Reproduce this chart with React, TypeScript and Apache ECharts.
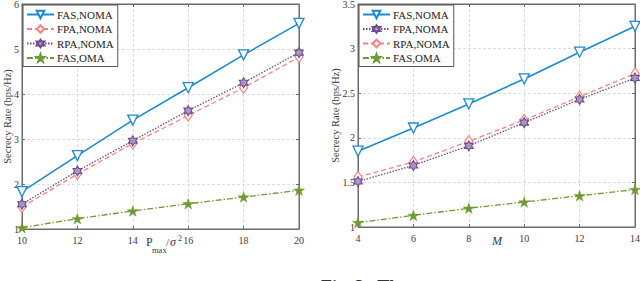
import React, { useEffect, useRef } from "react";
import * as echarts from "echarts";

// ---------- data ----------
const pmaxTicks = [10, 12, 14, 16, 18, 20];
const leftFasNoma = [1.83, 2.63, 3.42, 4.14, 4.87, 5.57];
const leftFpaNoma = [1.49, 2.22, 2.9, 3.52, 4.14, 4.82];
const leftRpaNoma = [1.55, 2.29, 2.96, 3.63, 4.25, 4.92];
const leftFasOma = [1.03, 1.23, 1.4, 1.56, 1.71, 1.86];

const mTicks = [4, 6, 8, 10, 12, 14];
const rightFasNoma = [1.85, 2.11, 2.38, 2.66, 2.96, 3.25];
const rightFpaNoma = [1.51, 1.69, 1.91, 2.17, 2.43, 2.67];
const rightRpaNoma = [1.56, 1.73, 1.96, 2.2, 2.46, 2.72];
const rightFasOma = [1.05, 1.13, 1.21, 1.28, 1.35, 1.42];

const yName = "Secrecy Rate (bps/Hz)";

// ---------- styles ----------
const FONT = "'Liberation Serif', 'DejaVu Serif', serif";
const BLUE = "#1b8ad3";
const RED = "#f78383";
const PURPLE = "#6a4c8e";
const GREEN = "#6f9a33";

const PENTAGRAM =
  "path://M50 0 L61.2 34.5 L97.6 34.5 L68.2 55.9 L79.4 90.5 L50 69.1 L20.6 90.5 L31.8 55.9 L2.4 34.5 L38.8 34.5 Z";
const HEXAGRAM =
  "path://M50 0 L64.4 25 L93.3 25 L78.9 50 L93.3 75 L64.4 75 L50 100 L35.6 75 L6.7 75 L21.1 50 L6.7 25 L35.6 25 Z";

type Style = "blue" | "red" | "purple" | "green";

function series(name: string, xs: number[], ys: number[], st: Style) {
  const data = xs.map((x, i) => [x, ys[i]]);
  const base: any = {
    type: "line",
    name,
    data,
    xAxisIndex: 0,
    yAxisIndex: 0,
    showSymbol: true,
    symbolKeepAspect: true,
  };
  if (st === "blue") {
    return {
      ...base,
      symbol: "triangle",
      symbolRotate: 180,
      symbolSize: 10,
      lineStyle: { color: BLUE, width: 1.6, type: "solid" },
      itemStyle: { color: "#ffffff", borderColor: BLUE, borderWidth: 1.3 },
      z: 4,
    };
  }
  if (st === "red") {
    return {
      ...base,
      symbol: "diamond",
      symbolSize: [8, 11],
      lineStyle: { color: RED, width: 1.3, type: [5, 3] },
      itemStyle: { color: "#ffffff", borderColor: RED, borderWidth: 1.2 },
      z: 2,
    };
  }
  if (st === "purple") {
    return {
      ...base,
      symbol: HEXAGRAM,
      symbolSize: 10,
      lineStyle: { color: PURPLE, width: 1.3, type: [1.5, 1.5] },
      itemStyle: { color: "#a994c4", borderColor: PURPLE, borderWidth: 1.1 },
      z: 3,
    };
  }
  return {
    ...base,
    symbol: PENTAGRAM,
    symbolSize: 11,
    lineStyle: { color: GREEN, width: 1.3, type: [6, 2, 1.5, 2] },
    itemStyle: { color: GREEN, borderColor: GREEN, borderWidth: 0.5 },
    z: 2,
  };
}

function axisCommon() {
  return {
    axisLine: { show: true, onZero: false, lineStyle: { color: "#6b6b6b", width: 1 } },
    axisTick: { show: true, inside: true, length: 3, lineStyle: { color: "#6b6b6b" } },
  };
}

function buildOption(cfg: {
  xTicks: number[];
  yMin: number;
  yMax: number;
  yInterval: number;
  gridLeft: number;
  gridHeight: number;
  yNameGap: number;
  series: any[];
  legendNames: string[];
  graphic: any[];
}) {
  const xMin = cfg.xTicks[0];
  const xMax = cfg.xTicks[cfg.xTicks.length - 1];
  const xInterval = cfg.xTicks[1] - cfg.xTicks[0];
  const label = { fontFamily: FONT, fontSize: 10, color: "#3a3a3a" };
  return {
    animation: false,
    backgroundColor: "#ffffff",
    grid: {
      left: cfg.gridLeft,
      top: 4,
      width: 277,
      height: cfg.gridHeight,
      containLabel: false,
      outerBoundsMode: "none",
      show: true,
      borderColor: "#6b6b6b",
      borderWidth: 1,
      backgroundColor: "transparent",
    },
    legend: {
      data: cfg.legendNames,
      orient: "vertical",
      left: cfg.gridLeft + 1,
      top: 5,
      padding: [4, 4, 3, 3],
      itemGap: 3.5,
      itemWidth: 27,
      itemHeight: 9.5,
      backgroundColor: "#ffffff",
      borderColor: "#555555",
      borderWidth: 1,
      borderRadius: 0,
      textStyle: { fontFamily: FONT, fontSize: 11, color: "#222222", padding: [0, 0, 0, -2] },
    },
    xAxis: [
      {
        type: "value",
        min: xMin,
        max: xMax,
        interval: xInterval,
        ...axisCommon(),
        axisLabel: { ...label, margin: 6 },
        splitLine: { show: true, lineStyle: { color: "#dcdcdc", type: [3, 2], width: 1 } },
      },
      {
        type: "value",
        position: "top",
        min: xMin,
        max: xMax,
        interval: xInterval,
        ...axisCommon(),
        axisLabel: { show: false },
        splitLine: { show: false },
      },
    ],
    yAxis: [
      {
        type: "value",
        min: cfg.yMin,
        max: cfg.yMax,
        interval: cfg.yInterval,
        ...axisCommon(),
        axisLabel: { ...label, margin: 3 },
        splitLine: { show: true, lineStyle: { color: "#dcdcdc", type: [3, 2], width: 1 } },
        name: yName,
        nameLocation: "middle",
        nameGap: cfg.yNameGap,
        nameMoveOverlap: false,
        nameTextStyle: { fontFamily: FONT, fontSize: 10.5, color: "#3a3a3a" },
      },
      {
        type: "value",
        position: "right",
        min: cfg.yMin,
        max: cfg.yMax,
        interval: cfg.yInterval,
        ...axisCommon(),
        axisLabel: { show: false },
        splitLine: { show: false },
      },
    ],
    series: cfg.series,
    graphic: cfg.graphic,
  };
}

function ChartBox({ option }: { option: any }) {
  const ref = useRef<HTMLDivElement>(null);
  useEffect(() => {
    if (!ref.current) return;
    const chart = echarts.init(ref.current, undefined, { renderer: "svg" });
    chart.setOption(option);
    return () => chart.dispose();
  }, [option]);
  return <div ref={ref} style={{ width: 320, height: 281 }} />;
}

const leftOption = buildOption({
  xTicks: pmaxTicks,
  yMin: 1,
  yMax: 6,
  yInterval: 1,
  gridLeft: 22,
  gridHeight: 225,
  yNameGap: 9,
  legendNames: ["FAS,NOMA", "FPA,NOMA", "RPA,NOMA", "FAS,OMA"],
  series: [
    series("FAS,NOMA", pmaxTicks, leftFasNoma, "blue"),
    series("FPA,NOMA", pmaxTicks, leftFpaNoma, "red"),
    series("RPA,NOMA", pmaxTicks, leftRpaNoma, "purple"),
    series("FAS,OMA", pmaxTicks, leftFasOma, "green"),
  ],
  graphic: [
    { type: "text", x: 146, y: 236, style: { text: "P", font: `12px ${FONT}`, fill: "#3a3a3a", verticalAlign: "top" } },
    { type: "text", x: 152, y: 245, style: { text: "max", font: `8.5px ${FONT}`, fill: "#3a3a3a", verticalAlign: "top" } },
    { type: "text", x: 166, y: 236, style: { text: "/", font: `11px ${FONT}`, fill: "#3a3a3a", verticalAlign: "top" } },
    { type: "text", x: 170, y: 236, style: { text: "σ", font: `italic 12px ${FONT}`, fill: "#3a3a3a", verticalAlign: "top" } },
    { type: "text", x: 178, y: 234, style: { text: "2", font: `8px ${FONT}`, fill: "#3a3a3a", verticalAlign: "top" } },
  ],
});

const rightOption = buildOption({
  xTicks: mTicks,
  yMin: 1,
  yMax: 3.5,
  yInterval: 0.5,
  gridLeft: 38,
  gridHeight: 223,
  yNameGap: 17,
  legendNames: ["FAS,NOMA", "FPA,NOMA", "RPA,NOMA", "FAS,OMA"],
  series: [
    series("FAS,NOMA", mTicks, rightFasNoma, "blue"),
    series("RPA,NOMA", mTicks, rightRpaNoma, "red"),
    series("FPA,NOMA", mTicks, rightFpaNoma, "purple"),
    series("FAS,OMA", mTicks, rightFasOma, "green"),
  ],
  graphic: [
    { type: "text", x: 172, y: 235, style: { text: "M", font: `italic 12px ${FONT}`, fill: "#3a3a3a", verticalAlign: "top" } },
    { type: "text", x: 1, y: 278, style: { text: "Fig. 3.  Th", font: `bold 18px ${FONT}`, fill: "#333333", verticalAlign: "top" } },
  ],
});

export default function App() {
  return (
    <div
      style={{
        position: "fixed",
        left: 0,
        top: 0,
        width: 640,
        height: 281,
        display: "flex",
        background: "#ffffff",
        overflow: "hidden",
      }}
    >
      <ChartBox option={leftOption} />
      <ChartBox option={rightOption} />
    </div>
  );
}
